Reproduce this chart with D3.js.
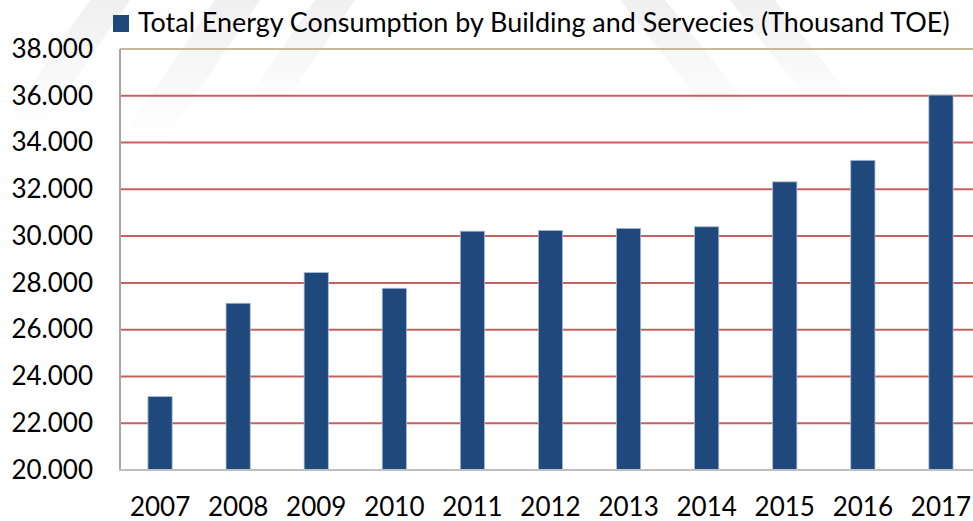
<!DOCTYPE html>
<html>
<head>
<meta charset="utf-8">
<script src="https://cdn.jsdelivr.net/npm/d3@7"></script>
<style>
  body { margin: 0; background: #fff; }
  svg text { font-family: Lato, "Open Sans", sans-serif; fill: #000; }
</style>
</head>
<body>
<svg id="chart" width="973" height="521"></svg>
<script>
// data
var years = ['2007', '2008', '2009', '2010', '2011', '2012', '2013', '2014', '2015', '2016', '2017'];
var consumption = [23140, 27130, 28440, 27770, 30210, 30240, 30330, 30400, 32320, 33240, 36030];
var yTicks = [20000, 22000, 24000, 26000, 28000, 30000, 32000, 34000, 36000, 38000];
var seriesName = 'Total Energy Consumption by Building and Servecies (Thousand TOE)';

const W = 973, H = 521;
const plot = {left: 121, right: 980, top: 49, bottom: 470};
const svg = d3.select('#chart');

// faint watermark stripes at the top
const defs = svg.append('defs');
const grad = defs.append('linearGradient').attr('id', 'wmFade')
  .attr('x1', 0).attr('y1', 0).attr('x2', 0).attr('y2', 1);
grad.append('stop').attr('offset', '0%').attr('stop-color', '#e9e9e9').attr('stop-opacity', 1);
grad.append('stop').attr('offset', '100%').attr('stop-color', '#e9e9e9').attr('stop-opacity', 0);
var stripes = [
  [[0, 130], [40, 130], [130, 0], [90, 0]],
  [[120, 140], [165, 140], [260, 0], [215, 0]],
  [[240, 110], [280, 110], [355, 0], [315, 0]],
  [[620, 0], [665, 0], [760, 120], [715, 120]],
  [[730, 0], [775, 0], [860, 110], [815, 110]]
];
svg.append('g').selectAll('polygon').data(stripes).enter()
  .append('polygon')
  .attr('points', d => d.map(p => p.join(',')).join(' '))
  .attr('fill', 'url(#wmFade)')
  .attr('opacity', 0.7);

const x = d3.scaleBand().domain(years).range([plot.left, plot.right])
  .paddingInner(0.69).paddingOuter(0.345);
const y = d3.scaleLinear().domain([20000, 38000]).range([plot.bottom, plot.top]);

const fmt = d3.formatLocale({decimal: ',', thousands: '.', grouping: [3], currency: ['', '']}).format(',d');

// red gridlines
svg.append('g')
  .selectAll('line').data(yTicks.filter(v => v > 20000 && v < 38000)).enter()
  .append('line')
  .attr('x1', plot.left).attr('x2', W)
  .attr('y1', d => y(d)).attr('y2', d => y(d))
  .attr('stroke', '#c0504d').attr('stroke-width', 2).attr('stroke-opacity', 0.9);

// top border
svg.append('line')
  .attr('x1', plot.left - 1).attr('x2', W)
  .attr('y1', y(38000)).attr('y2', y(38000))
  .attr('stroke', '#c9b99a').attr('stroke-width', 2);

// bars
svg.append('g').selectAll('rect').data(consumption).enter()
  .append('rect')
  .attr('x', (d, i) => x(years[i]))
  .attr('y', d => y(d))
  .attr('width', x.bandwidth())
  .attr('height', d => y(20000) - y(d))
  .attr('fill', '#1f497d')
  .attr('stroke', '#a9bbd6').attr('stroke-width', 0.8);

// axis lines
svg.append('line')
  .attr('x1', plot.left - 1).attr('x2', plot.left - 1)
  .attr('y1', plot.top).attr('y2', plot.bottom)
  .attr('stroke', '#a6a6a6').attr('stroke-width', 2);
svg.append('line')
  .attr('x1', plot.left - 2).attr('x2', W)
  .attr('y1', plot.bottom).attr('y2', plot.bottom)
  .attr('stroke', '#bfbfbf').attr('stroke-width', 2);

// y axis labels
const yAxis = svg.append('g')
  .attr('transform', 'translate(' + plot.left + ',0)')
  .call(d3.axisLeft(y).tickValues(yTicks).tickFormat(fmt).tickSize(0).tickPadding(28));
yAxis.select('.domain').remove();
yAxis.selectAll('text').attr('font-size', 26).attr('font-family', 'Lato').attr('fill', '#000');

// x axis labels
const xAxis = svg.append('g')
  .attr('transform', 'translate(0,' + plot.bottom + ')')
  .call(d3.axisBottom(x).tickSize(0).tickPadding(28));
xAxis.select('.domain').remove();
xAxis.selectAll('text').attr('font-size', 26).attr('font-family', 'Lato').attr('fill', '#000');

// legend
svg.append('rect')
  .attr('x', 113).attr('y', 15).attr('width', 16).attr('height', 17)
  .attr('fill', '#1f497d');
const legendText = svg.append('text')
  .attr('x', 138).attr('y', 32)
  .attr('font-size', 25)
  .text(seriesName);
const targetWidth = 812;
const w0 = legendText.node().getComputedTextLength();
legendText.attr('font-size', 25 * targetWidth / w0);
</script>
</body>
</html>
